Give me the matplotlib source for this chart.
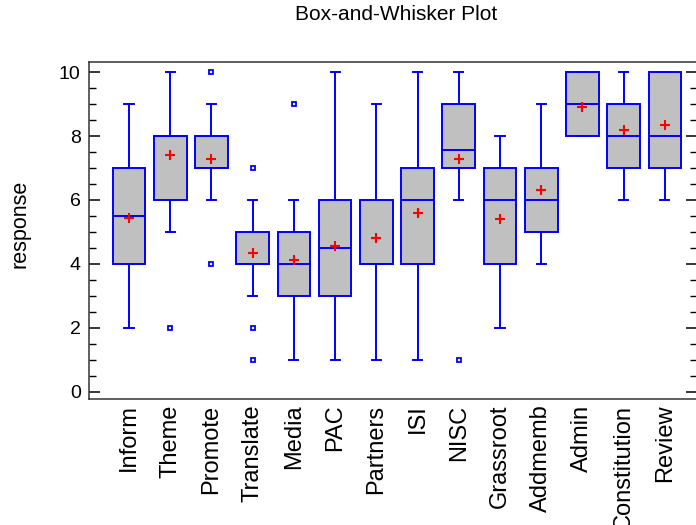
import matplotlib
matplotlib.use("Agg")
import matplotlib.pyplot as plt

plt.rcParams['font.family'] = ['Liberation Sans', 'DejaVu Sans']

# summary values
names = ["Inform", "Theme", "Promote", "Translate", "Media", "PAC", "Partners",
         "ISI", "NISC", "Grassroot", "Addmemb", "Admin", "Constitution", "Review"]
q1 = [4, 6, 7, 4, 3, 3, 4, 4, 7, 4, 5, 8, 7, 7]
med = [5.5, 8, 7, 4, 4, 4.5, 4, 6, 7.55, 6, 6, 9, 8, 8]
q3 = [7, 8, 8, 5, 5, 6, 6, 7, 9, 7, 7, 10, 9, 10]
whislo = [2, 5, 6, 3, 1, 1, 1, 1, 6, 2, 4, 8, 6, 6]
whishi = [9, 10, 9, 6, 6, 10, 9, 10, 10, 8, 9, 10, 10, 10]
means = [5.45, 7.42, 7.28, 4.33, 4.12, 4.55, 4.82, 5.58, 7.28, 5.42, 6.32, 8.9, 8.2, 8.36]
fliers = [[], [2], [10, 4], [7, 2, 1], [9], [], [], [], [1], [], [], [], [], []]

stats = []
for i in range(len(names)):
    stats.append(dict(label=names[i], q1=q1[i], med=med[i], q3=q3[i],
                      whislo=whislo[i], whishi=whishi[i], mean=means[i],
                      fliers=fliers[i]))

fig = plt.figure(figsize=(6.96, 5.25), dpi=100, facecolor='white')
ax = fig.add_axes([0.1279, 0.24, 0.8736, 0.6419])

blue = '#0000ff'
lw = 1.4
ax.bxp(stats, widths=0.79, capwidths=0.22, showmeans=True, patch_artist=True,
       boxprops=dict(facecolor='#c0c0c0', edgecolor=blue, linewidth=lw),
       medianprops=dict(color=blue, linewidth=lw),
       whiskerprops=dict(color=blue, linewidth=lw),
       capprops=dict(color=blue, linewidth=lw),
       meanprops=dict(marker='+', markeredgecolor='red', markersize=6.5, markeredgewidth=1.5),
       flierprops=dict(marker='s', markerfacecolor='white', markeredgecolor=blue,
                       markersize=3.5, markeredgewidth=1.3))

ax.set_xlim(0.03, 14.78)
ax.set_ylim(-0.23, 10.32)
ax.set_yticks([0, 2, 4, 6, 8, 10])
ax.set_yticks([v * 0.5 for v in range(21)], minor=True)
ax.tick_params(axis='y', which='major', direction='in', length=8, width=1.1,
               labelsize=14, pad=6, right=True)
ax.tick_params(axis='y', which='minor', direction='in', length=5, width=1.0, right=True)
ax.tick_params(axis='x', length=0, labelsize=17, pad=4, labelrotation=90)

for s in ax.spines.values():
    s.set_color('#333333')
    s.set_linewidth(1.1)

fig.text(396 / 696, 1 - 15 / 525, "Box-and-Whisker Plot", ha='center', va='center', fontsize=15)
fig.text(20 / 696, 1 - 224 / 525, "response", ha='center', va='center', rotation=90, fontsize=15.5)

fig.savefig("out.png", dpi=100)
